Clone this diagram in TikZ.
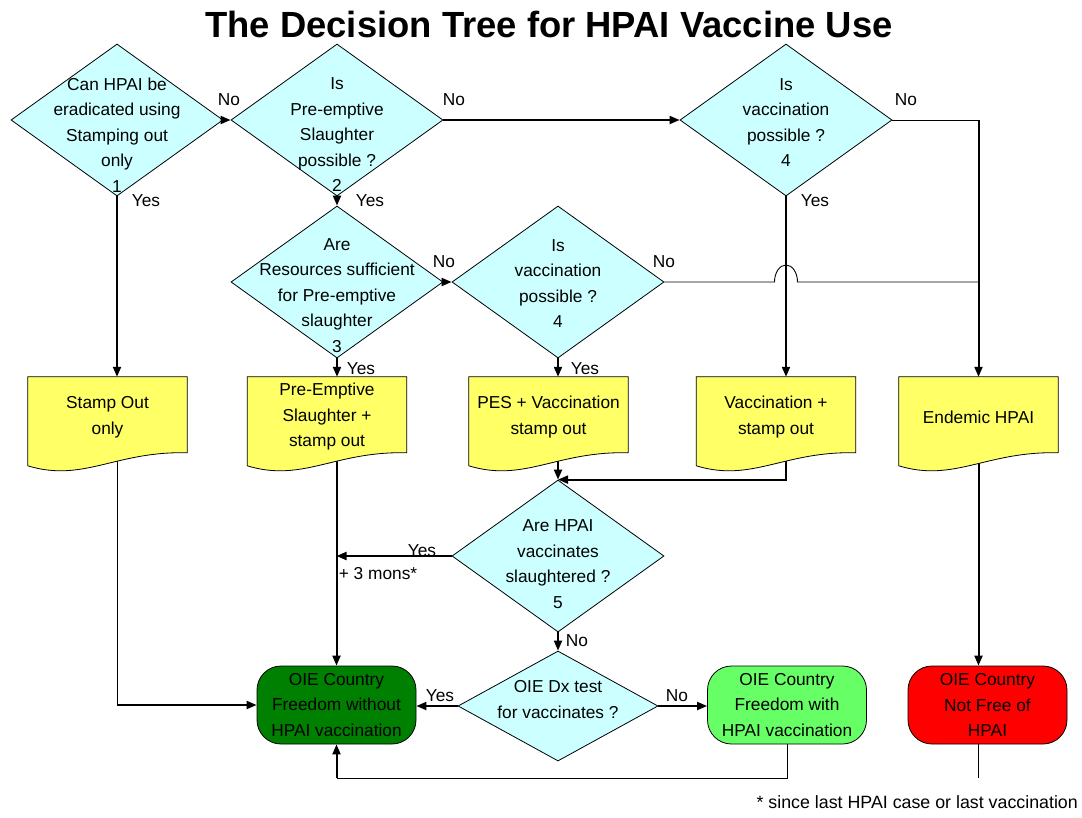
\documentclass[tikz,border=0pt]{standalone}
\usepackage{fontspec}
\setmainfont{Liberation Sans}
\usetikzlibrary{arrows.meta,backgrounds,positioning,shapes.geometric}
\definecolor{qcyan}{HTML}{CCFFFF}
\definecolor{docyellow}{HTML}{FFFF66}
\definecolor{freegreen}{HTML}{008000}
\definecolor{vacgreen}{HTML}{66FF66}
\definecolor{notfreered}{HTML}{FF0000}
\newcommand{\bodyfont}{\fontsize{17.3}{25.5}\selectfont}
\tikzset{
	query/.style={diamond, draw, fill=qcyan, line width=0.8pt, minimum width=212, minimum height=152, inner sep=0pt},
	qtext/.style={align=center, font=\bodyfont, inner sep=0pt},
	docbox/.style={minimum width=159, minimum height=80, inner sep=0pt, align=center, font=\bodyfont},
	docshape/.style={draw, fill=docyellow, line width=0.8pt},
	terminal/.style={rectangle, rounded corners=24pt, draw, line width=0.8pt, minimum width=159, minimum height=78, inner sep=0pt, align=center, font=\bodyfont},
	lbl/.style={font=\bodyfont, inner sep=0pt},
	bold/.style={line width=2pt},
	thinline/.style={line width=0.9pt},
	arr/.style={-{Triangle[length=10pt,width=8pt]}}
}

\begin{document}
\begin{tikzpicture}[x=1pt, y=-1pt]
	\useasboundingbox (0,0) rectangle (1082,817);
	\node[anchor=base, font=\fontsize{36.4}{40}\selectfont\bfseries] (title) at (549,37) {The Decision Tree for HPAI Vaccine Use};

	\node[query] (q1) at (117,120) {};
	\node[query] (q2) at (337,120) {};
	\node[query] (q4) at (786,120) {};
	\node[query] (q3) at (337,282) {};
	\node[query] (q4b) at (558,282) {};
	\node[query] (q5) at (558,556) {};
	\node[query, minimum width=200, minimum height=110] (dx) at (558,706) {};

	\node[qtext] (q1t) at ([yshift=-15pt]q1.center) {Can HPAI be\\eradicated using\\Stamping out\\only\\1};
	\node[qtext] (q2t) at ([yshift=-15pt]q2.center) {Is\\Pre-emptive\\Slaughter\\possible ?\\2};
	\node[qtext] (q4t) at ([yshift=-2.5pt]q4.center) {Is\\vaccination\\possible ?\\4};
	\node[qtext] (q3t) at ([yshift=-13.5pt]q3.center) {Are\\Resources sufficient\\for Pre-emptive\\slaughter\\3};
	\node[qtext] (q4bt) at ([yshift=-1.5pt]q4b.center) {Is\\vaccination\\possible ?\\4};
	\node[qtext] (q5t) at ([yshift=-8pt]q5.center) {Are HPAI\\vaccinates\\slaughtered ?\\5};
	\node[qtext] (dxt) at ([yshift=6.5pt]dx.center) {OIE Dx test\\for vaccinates ?};

	\node[docbox] (so) at (107.5,417) {Stamp Out\\only};
	\node[docbox] (pes) at (327,417) {Pre-Emptive\\Slaughter +\\stamp out};
	\node[docbox] (pesv) at (548.5,417) {PES + Vaccination\\stamp out};
	\node[docbox] (vac) at (776,417) {Vaccination +\\stamp out};
	\node[docbox] (endm) at (978.5,417) {Endemic HPAI};

	\node[terminal, fill=freegreen] (free) at (336.5,705) {OIE Country\\Freedom without\\HPAI vaccination};
	\node[terminal, fill=vacgreen] (freevac) at (787,705) {OIE Country\\Freedom with\\HPAI vaccination};
	\node[terminal, fill=notfreered] (notfree) at (987.5,705) {OIE Country\\Not Free of\\HPAI};
	\coordinate (redtail) at (978.5,778);

	\begin{scope}[on background layer]
		\fill[white] (0,0) rectangle (1082,817);
		\draw[thinline] (q1.south |- so.center) -- (q1.south |- free.west);
		\draw[bold, arr] (free.north |- pes.center) -- (free.north);
		\draw[bold, arr] (q5.north |- pesv.center) -- (q5.north);
		\draw[bold, arr] (q4.south |- vac.center) |- (q5.north);
		\draw[bold, arr] (endm.center) -- (endm.center |- notfree.north);
		\foreach \n in {so,pes,pesv,vac,endm}
			\filldraw[docshape] (\n.north west) -- (\n.north east) -- ([yshift=-76pt]\n.north east)
				.. controls +(-71.5,-2) and +(55.6,17) .. ([yshift=-89pt]\n.north west) -- cycle;
	\end{scope}

	\draw[bold, arr] (q1.east) -- (q2.west);
	\draw[bold, arr] (q2.east) -- (q4.west);
	\draw[thinline] (q4.east) -- (q4.east -| endm.north);
	\draw[bold, arr] (q4.east -| endm.north) -- (endm.north);
	\draw[bold, arr] (q1.south) -- (q1.south |- so.north);
	\draw[bold, arr] (q2.south) -- (q3.north);
	\draw[bold, arr] (q4.south) -- (q4.south |- vac.north);
	\draw[bold, arr] (q3.east) -- (q4b.west);
	\draw[thinline] (q4b.east) -- ([xshift=-11.5pt]q4.south |- q4b.east)
		arc[start angle=180, end angle=0, x radius=11.5pt, y radius=17pt] -- (endm.north |- q4b.east);
	\draw[bold, arr] (q3.south) -- (q3.south |- pes.north);
	\draw[bold, arr] (q4b.south) -- (q4b.south |- pesv.north);
	\draw[bold, arr] (q1.south |- free.west) -- (free.west);
	\draw[bold, arr] (q5.west) -- (q5.west -| free.north);
	\draw[bold, arr] (q5.south) -- (dx.north);
	\draw[bold, arr] (dx.west) -- (dx.west -| free.east);
	\draw[bold, arr] (dx.east) -- (dx.east -| freevac.west);
	\draw[thinline] (freevac.south) -- ([yshift=-34pt]freevac.south) -| ([yshift=-34pt]free.south);
	\draw[bold, arr] ([yshift=-34pt]free.south) -- (free.south);
	\draw[thinline] (endm.center |- notfree.south) -- (redtail);

	\node[lbl] (no1) at (229,100) {No};
	\node[lbl] (yes1) at (146,201) {Yes};
	\node[lbl] (no2) at (454,100) {No};
	\node[lbl] (yes2) at (370,201) {Yes};
	\node[lbl] (no4) at (906,100) {No};
	\node[lbl] (yes4) at (815,201) {Yes};
	\node[lbl] (no3) at (444,262) {No};
	\node[lbl] (yes3) at (361,369) {Yes};
	\node[lbl] (no4b) at (664,262) {No};
	\node[lbl] (yes4b) at (585,369) {Yes};
	\node[lbl] (yes5) at (422,551) {Yes};
	\node[lbl] (mons) at (378,574) {+ 3 mons*};
	\node[lbl] (no5) at (577,641) {No};
	\node[lbl] (yesdx) at (440,696) {Yes};
	\node[lbl] (nodx) at (677,696) {No};

	\node[anchor=base east, inner sep=0pt, font=\fontsize{17.8}{20}\selectfont] (note) at (1078,808) {* since last HPAI case or last vaccination};
\end{tikzpicture}
\end{document}
